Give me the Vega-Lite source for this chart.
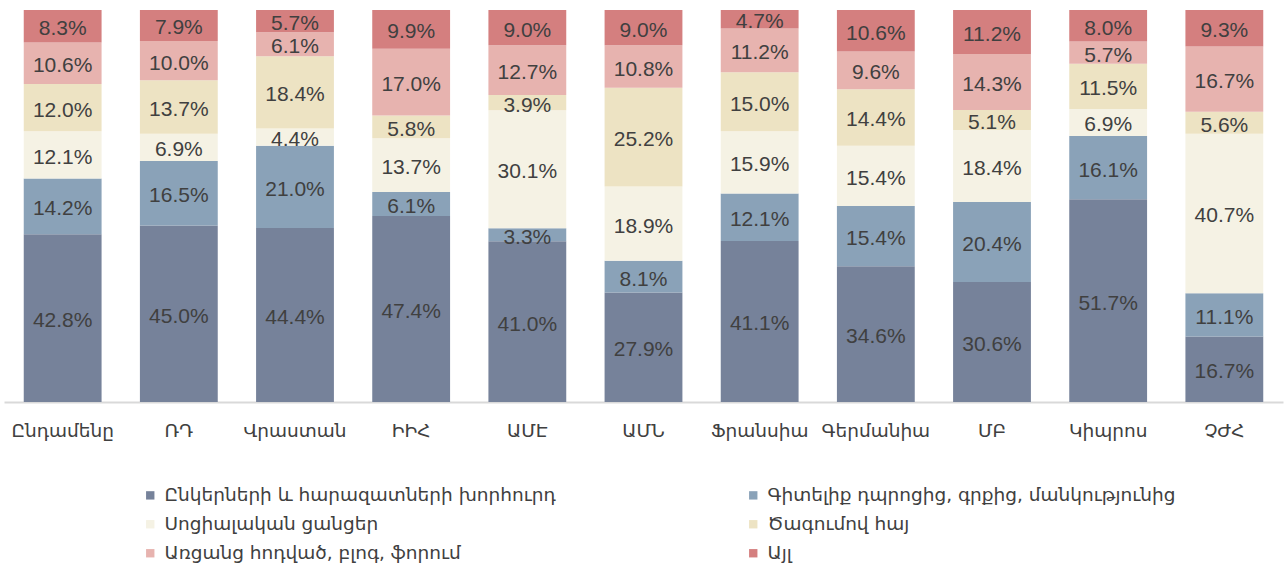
{
  "$schema": "https://vega.github.io/schema/vega-lite/v6.json",
  "width": 1279,
  "height": 392,
  "padding": {"left": 4, "top": 10, "right": 1, "bottom": 166},
  "autosize": {"type": "none"},
  "background": "white",
  "config": {"view": {"stroke": null}},
  "data": {"values": [
    {"country": "Ընդամենը", "cat": "Ընկերների և հարազատների խորհուրդ", "order": 1, "value": 42.8},
    {"country": "Ընդամենը", "cat": "Գիտելիք դպրոցից, գրքից, մանկությունից", "order": 2, "value": 14.2},
    {"country": "Ընդամենը", "cat": "Սոցիալական ցանցեր", "order": 3, "value": 12.1},
    {"country": "Ընդամենը", "cat": "Ծագումով հայ", "order": 4, "value": 12.0},
    {"country": "Ընդամենը", "cat": "Առցանց հոդված, բլոգ, ֆորում", "order": 5, "value": 10.6},
    {"country": "Ընդամենը", "cat": "Այլ", "order": 6, "value": 8.3},
    {"country": "ՌԴ", "cat": "Ընկերների և հարազատների խորհուրդ", "order": 1, "value": 45.0},
    {"country": "ՌԴ", "cat": "Գիտելիք դպրոցից, գրքից, մանկությունից", "order": 2, "value": 16.5},
    {"country": "ՌԴ", "cat": "Սոցիալական ցանցեր", "order": 3, "value": 6.9},
    {"country": "ՌԴ", "cat": "Ծագումով հայ", "order": 4, "value": 13.7},
    {"country": "ՌԴ", "cat": "Առցանց հոդված, բլոգ, ֆորում", "order": 5, "value": 10.0},
    {"country": "ՌԴ", "cat": "Այլ", "order": 6, "value": 7.9},
    {"country": "Վրաստան", "cat": "Ընկերների և հարազատների խորհուրդ", "order": 1, "value": 44.4},
    {"country": "Վրաստան", "cat": "Գիտելիք դպրոցից, գրքից, մանկությունից", "order": 2, "value": 21.0},
    {"country": "Վրաստան", "cat": "Սոցիալական ցանցեր", "order": 3, "value": 4.4},
    {"country": "Վրաստան", "cat": "Ծագումով հայ", "order": 4, "value": 18.4},
    {"country": "Վրաստան", "cat": "Առցանց հոդված, բլոգ, ֆորում", "order": 5, "value": 6.1},
    {"country": "Վրաստան", "cat": "Այլ", "order": 6, "value": 5.7},
    {"country": "ԻԻՀ", "cat": "Ընկերների և հարազատների խորհուրդ", "order": 1, "value": 47.4},
    {"country": "ԻԻՀ", "cat": "Գիտելիք դպրոցից, գրքից, մանկությունից", "order": 2, "value": 6.1},
    {"country": "ԻԻՀ", "cat": "Սոցիալական ցանցեր", "order": 3, "value": 13.7},
    {"country": "ԻԻՀ", "cat": "Ծագումով հայ", "order": 4, "value": 5.8},
    {"country": "ԻԻՀ", "cat": "Առցանց հոդված, բլոգ, ֆորում", "order": 5, "value": 17.0},
    {"country": "ԻԻՀ", "cat": "Այլ", "order": 6, "value": 9.9},
    {"country": "ԱՄԷ", "cat": "Ընկերների և հարազատների խորհուրդ", "order": 1, "value": 41.0},
    {"country": "ԱՄԷ", "cat": "Գիտելիք դպրոցից, գրքից, մանկությունից", "order": 2, "value": 3.3},
    {"country": "ԱՄԷ", "cat": "Սոցիալական ցանցեր", "order": 3, "value": 30.1},
    {"country": "ԱՄԷ", "cat": "Ծագումով հայ", "order": 4, "value": 3.9},
    {"country": "ԱՄԷ", "cat": "Առցանց հոդված, բլոգ, ֆորում", "order": 5, "value": 12.7},
    {"country": "ԱՄԷ", "cat": "Այլ", "order": 6, "value": 9.0},
    {"country": "ԱՄՆ", "cat": "Ընկերների և հարազատների խորհուրդ", "order": 1, "value": 27.9},
    {"country": "ԱՄՆ", "cat": "Գիտելիք դպրոցից, գրքից, մանկությունից", "order": 2, "value": 8.1},
    {"country": "ԱՄՆ", "cat": "Սոցիալական ցանցեր", "order": 3, "value": 18.9},
    {"country": "ԱՄՆ", "cat": "Ծագումով հայ", "order": 4, "value": 25.2},
    {"country": "ԱՄՆ", "cat": "Առցանց հոդված, բլոգ, ֆորում", "order": 5, "value": 10.8},
    {"country": "ԱՄՆ", "cat": "Այլ", "order": 6, "value": 9.0},
    {"country": "Ֆրանսիա", "cat": "Ընկերների և հարազատների խորհուրդ", "order": 1, "value": 41.1},
    {"country": "Ֆրանսիա", "cat": "Գիտելիք դպրոցից, գրքից, մանկությունից", "order": 2, "value": 12.1},
    {"country": "Ֆրանսիա", "cat": "Սոցիալական ցանցեր", "order": 3, "value": 15.9},
    {"country": "Ֆրանսիա", "cat": "Ծագումով հայ", "order": 4, "value": 15.0},
    {"country": "Ֆրանսիա", "cat": "Առցանց հոդված, բլոգ, ֆորում", "order": 5, "value": 11.2},
    {"country": "Ֆրանսիա", "cat": "Այլ", "order": 6, "value": 4.7},
    {"country": "Գերմանիա", "cat": "Ընկերների և հարազատների խորհուրդ", "order": 1, "value": 34.6},
    {"country": "Գերմանիա", "cat": "Գիտելիք դպրոցից, գրքից, մանկությունից", "order": 2, "value": 15.4},
    {"country": "Գերմանիա", "cat": "Սոցիալական ցանցեր", "order": 3, "value": 15.4},
    {"country": "Գերմանիա", "cat": "Ծագումով հայ", "order": 4, "value": 14.4},
    {"country": "Գերմանիա", "cat": "Առցանց հոդված, բլոգ, ֆորում", "order": 5, "value": 9.6},
    {"country": "Գերմանիա", "cat": "Այլ", "order": 6, "value": 10.6},
    {"country": "ՄԲ", "cat": "Ընկերների և հարազատների խորհուրդ", "order": 1, "value": 30.6},
    {"country": "ՄԲ", "cat": "Գիտելիք դպրոցից, գրքից, մանկությունից", "order": 2, "value": 20.4},
    {"country": "ՄԲ", "cat": "Սոցիալական ցանցեր", "order": 3, "value": 18.4},
    {"country": "ՄԲ", "cat": "Ծագումով հայ", "order": 4, "value": 5.1},
    {"country": "ՄԲ", "cat": "Առցանց հոդված, բլոգ, ֆորում", "order": 5, "value": 14.3},
    {"country": "ՄԲ", "cat": "Այլ", "order": 6, "value": 11.2},
    {"country": "Կիպրոս", "cat": "Ընկերների և հարազատների խորհուրդ", "order": 1, "value": 51.7},
    {"country": "Կիպրոս", "cat": "Գիտելիք դպրոցից, գրքից, մանկությունից", "order": 2, "value": 16.1},
    {"country": "Կիպրոս", "cat": "Սոցիալական ցանցեր", "order": 3, "value": 6.9},
    {"country": "Կիպրոս", "cat": "Ծագումով հայ", "order": 4, "value": 11.5},
    {"country": "Կիպրոս", "cat": "Առցանց հոդված, բլոգ, ֆորում", "order": 5, "value": 5.7},
    {"country": "Կիպրոս", "cat": "Այլ", "order": 6, "value": 8.0},
    {"country": "ՉԺՀ", "cat": "Ընկերների և հարազատների խորհուրդ", "order": 1, "value": 16.7},
    {"country": "ՉԺՀ", "cat": "Գիտելիք դպրոցից, գրքից, մանկությունից", "order": 2, "value": 11.1},
    {"country": "ՉԺՀ", "cat": "Սոցիալական ցանցեր", "order": 3, "value": 40.7},
    {"country": "ՉԺՀ", "cat": "Ծագումով հայ", "order": 4, "value": 5.6},
    {"country": "ՉԺՀ", "cat": "Առցանց հոդված, բլոգ, ֆորում", "order": 5, "value": 16.7},
    {"country": "ՉԺՀ", "cat": "Այլ", "order": 6, "value": 9.3}
  ]},
  "transform": [
    {"stack": "value", "groupby": ["country"], "sort": [{"field": "order"}], "as": ["v0", "v1"], "offset": "normalize"},
    {"calculate": "(datum.v0 + datum.v1) / 2", "as": "mid"},
    {"calculate": "format(datum.value, '.1f') + '%'", "as": "label"}
  ],
  "encoding": {
    "x": {
      "field": "country", "type": "nominal", "sort": null, "title": null,
      "scale": {"paddingInner": 0.33, "paddingOuter": 0.17},
      "axis": {"labelAngle": 0, "ticks": false, "domainColor": "#D9D9D9", "domainWidth": 2, "labelFont": "DejaVu Sans", "labelFontSize": 18.5, "labelColor": "#404040", "labelPadding": 19, "grid": false}
    }
  },
  "layer": [
    {
      "mark": {"type": "bar"},
      "encoding": {
        "y": {"field": "v0", "type": "quantitative", "scale": {"domain": [0, 1]}, "axis": null},
        "y2": {"field": "v1"},
        "color": {
          "field": "cat", "type": "nominal",
          "scale": {
            "domain": ["Ընկերների և հարազատների խորհուրդ", "Սոցիալական ցանցեր", "Առցանց հոդված, բլոգ, ֆորում", "Գիտելիք դպրոցից, գրքից, մանկությունից", "Ծագումով հայ", "Այլ"],
            "range": ["#76829A", "#F5F2E4", "#E7B3AF", "#8AA2B8", "#EDE3C3", "#D47F7F"]
          },
          "legend": {
            "title": null, "orient": "none", "legendX": 137, "legendY": 476,
            "columns": 2, "columnPadding": 188, "rowPadding": 10,
            "symbolType": "square", "symbolSize": 70, "symbolStrokeWidth": 0,
            "labelFont": "DejaVu Sans", "labelFontSize": 18.5, "labelColor": "#404040", "labelLimit": 600, "labelOffset": 5
          }
        }
      }
    },
    {
      "mark": {"type": "text", "font": "Liberation Sans", "fontSize": 21, "color": "#404040", "baseline": "middle", "dy": 3},
      "encoding": {
        "y": {"field": "mid", "type": "quantitative", "scale": {"domain": [0, 1]}},
        "text": {"field": "label", "type": "nominal"}
      }
    }
  ]
}
